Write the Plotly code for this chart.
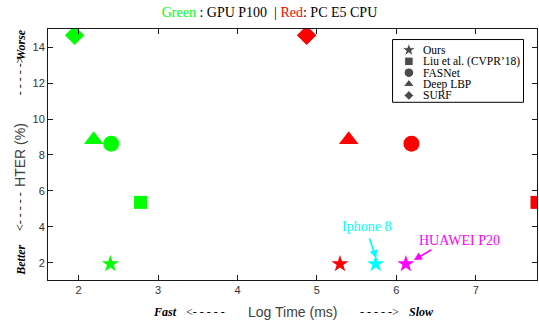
import plotly.graph_objects as go

# ---------------- data ----------------
methods = ["Ours", "Liu et al. (CVPR’18)", "FASNet", "Deep LBP", "SURF"]
symbols = ["star", "square", "circle", "triangle-up", "diamond"]
gpu_time = [2.40, 2.78, 2.41, 2.19, 1.95]
gpu_hter = [1.93, 5.36, 8.63, 8.85, 14.66]
cpu_time = [5.29, 7.77, 6.19, 5.40, 4.87]
cpu_hter = [1.93, 5.36, 8.63, 8.85, 14.66]
mobile_devices = ["Iphone 8", "HUAWEI P20"]
mobile_time = [5.74, 6.12]
mobile_hter = [1.93, 1.93]
x_ticks = [2, 3, 4, 5, 6, 7]
y_ticks = [2, 4, 6, 8, 10, 12, 14]

# ---------------- style ----------------
GREEN, RED = "#00ff00", "#ff0000"
mobile_colors = ["#00ffff", "#ff00ff"]
plot_sizes = {"star": 13, "square": 13, "circle": 16, "triangle-up": 17, "diamond": 15}
legend_sizes = {"star": 10.5, "square": 8.5, "circle": 9.5, "triangle-up": 9.5, "diamond": 7.5}
SERIF = "Liberation Serif"
SANS = "Liberation Sans"

fig = go.Figure()

for i, m in enumerate(methods):
    s = symbols[i]
    fig.add_trace(go.Scatter(x=[gpu_time[i]], y=[gpu_hter[i]], mode="markers",
                             marker=dict(symbol=s, size=plot_sizes[s], color=GREEN),
                             showlegend=False, hoverinfo="skip"))
    fig.add_trace(go.Scatter(x=[cpu_time[i]], y=[cpu_hter[i]], mode="markers",
                             marker=dict(symbol=s, size=plot_sizes[s], color=RED),
                             showlegend=False, hoverinfo="skip"))

for j, d in enumerate(mobile_devices):
    fig.add_trace(go.Scatter(x=[mobile_time[j]], y=[mobile_hter[j]], mode="markers",
                             marker=dict(symbol="star", size=plot_sizes["star"], color=mobile_colors[j]),
                             showlegend=False, hoverinfo="skip"))

# ---------------- manual legend (overlay axes in plot-area fraction) ----------------
leg_x0, leg_x1, leg_y0, leg_y1 = 0.7046, 0.9724, 0.708, 0.958
leg_marker_x, leg_text_x = 0.738, 0.762
leg_first_y, leg_step = 0.9165, 0.0453
leg_ys = [leg_first_y - k * leg_step for k in range(len(methods))]

fig.add_trace(go.Scatter(x=[leg_marker_x] * len(methods), y=leg_ys, mode="markers",
                         marker=dict(symbol=symbols, size=[legend_sizes[s] for s in symbols], color="black"),
                         xaxis="x2", yaxis="y2", showlegend=False, hoverinfo="skip", cliponaxis=False))

fig.add_shape(type="rect", xref="paper", yref="paper", x0=leg_x0, x1=leg_x1, y0=leg_y0, y1=leg_y1,
              line=dict(color="black", width=1), fillcolor="rgba(0,0,0,0)", layer="below")

annotations = []
for k, m in enumerate(methods):
    annotations.append(dict(x=leg_text_x, y=leg_ys[k], xref="paper", yref="paper", text=m,
                            showarrow=False, xanchor="left", yanchor="middle",
                            font=dict(family=SERIF, size=11.5, color="black")))

# device annotations
text_pos = [(5.625, 4.04), (6.79, 3.26)]
arrow_head = [(5.745, 2.26), (6.22, 2.15)]
arrow_tail = [(5.654, 3.44), (6.46, 2.77)]
for j, d in enumerate(mobile_devices):
    annotations.append(dict(x=text_pos[j][0], y=text_pos[j][1], xref="x", yref="y", text=d,
                            showarrow=False, font=dict(family=SERIF, size=14, color=mobile_colors[j])))
    annotations.append(dict(x=arrow_head[j][0], y=arrow_head[j][1], xref="x", yref="y", text="",
                            showarrow=True, ax=arrow_tail[j][0], ay=arrow_tail[j][1],
                            axref="x", ayref="y", arrowhead=2, arrowsize=1, arrowwidth=1.6,
                            arrowcolor=mobile_colors[j], standoff=0, startstandoff=0))

# axis label rows (with Fast/Slow, Better/Worse)
bi = dict(family=SERIF, size=12, color="black")
dash = dict(family=SERIF, size=12, color="black")
lab = dict(family=SANS, size=14, color="#404040")
xrow = -0.127
annotations += [
    dict(x=0.2396, y=xrow, text="<b><i>Fast</i></b>", font=bi),
    dict(x=0.322, y=xrow, text="<- - - - -", font=dash),
    dict(x=0.5, y=xrow, text="Log Time (ms)", font=lab),
    dict(x=0.678, y=xrow, text="- - - - ->", font=dash),
    dict(x=0.764, y=xrow, text="<b><i>Slow</i></b>", font=bi),
]
ycol = -0.0558
annotations += [
    dict(x=ycol, y=0.938, text="<b><i>Worse</i></b>", font=bi, textangle=-90),
    dict(x=ycol, y=0.815, text="- - - - ->", font=dash, textangle=-90),
    dict(x=ycol, y=0.497, text="HTER (%)", font=lab, textangle=-90),
    dict(x=ycol, y=0.274, text="<- - - - -", font=dash, textangle=-90),
    dict(x=ycol, y=0.0795, text="<b><i>Better</i></b>", font=bi, textangle=-90),
]
for a in annotations[-10:]:
    a.update(xref="paper", yref="paper", showarrow=False, xanchor="center", yanchor="middle")

axis_common = dict(showgrid=False, zeroline=False, showline=True, linecolor="#1a1a1a", linewidth=1,
                   mirror="ticks", ticks="inside", ticklen=5, tickcolor="#1a1a1a", tickwidth=1,
                   tickfont=dict(family=SANS, size=11, color="#333333"))

fig.update_layout(
    width=539, height=322,
    margin=dict(l=48, r=2, t=29, b=42),
    paper_bgcolor="white", plot_bgcolor="white",
    title=dict(text='<span style="color:#00ff00">Green</span> : GPU P100  | '
                    '<span style="color:#ff0000">Red</span>: PC E5 CPU',
               x=0.5, xanchor="center", y=1 - 12 / 322, yanchor="middle",
               font=dict(family=SERIF, size=14, color="black")),
    xaxis=dict(range=[1.615, 7.77], tickvals=x_ticks, **axis_common),
    yaxis=dict(range=[1.04, 15.01], tickvals=y_ticks, **axis_common),
    xaxis2=dict(range=[0, 1], overlaying="x", visible=False, anchor="y2"),
    yaxis2=dict(range=[0, 1], overlaying="y", visible=False, anchor="x2"),
    annotations=annotations,
    showlegend=False,
)

fig.write_html("out.html",
               config={"displayModeBar": False},
               post_script="document.body.style.margin='0';document.body.style.padding='0';"
                           "document.body.style.overflow='hidden';")
